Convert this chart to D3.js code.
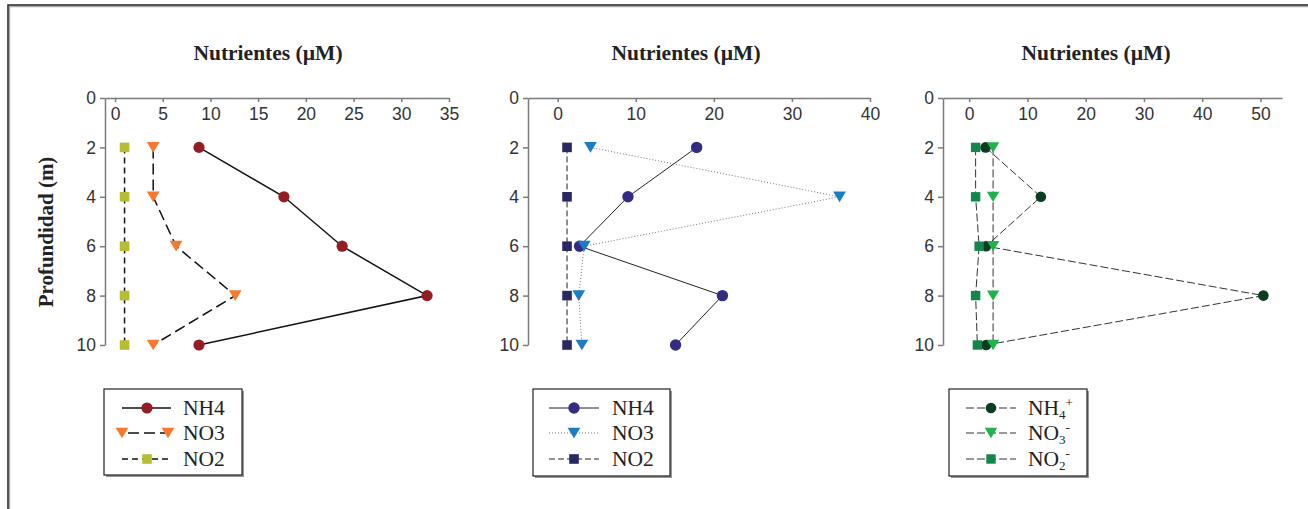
<!DOCTYPE html>
<html><head><meta charset="utf-8">
<script src="https://cdn.jsdelivr.net/npm/d3@7"></script>
<style>body{margin:0;background:#fff}svg{display:block}</style>
</head><body>
<script>
// ---- data ----
const depths = [2, 4, 6, 8, 10];
const depthTicks = [0, 2, 4, 6, 8, 10];
const p1NH4 = [8.8, 17.7, 23.8, 32.7, 8.8];
const p1NO3 = [4.0, 4.0, 6.4, 12.6, 4.0];
const p1NO2 = [1.0, 1.0, 1.0, 1.0, 1.0];
const p2NH4 = [17.8, 9.0, 2.8, 21.1, 15.1];
const p2NO3 = [4.2, 36.1, 3.4, 2.7, 3.1];
const p2NO2 = [1.2, 1.2, 1.2, 1.2, 1.2];
const p3NH4 = [2.8, 12.3, 2.9, 50.5, 2.9];
const p3NO3 = [4.1, 4.1, 4.1, 4.1, 4.1];
const p3NO2 = [1.1, 1.1, 1.7, 1.1, 1.4];
const p1Ticks = [0, 5, 10, 15, 20, 25, 30, 35];
const p2Ticks = [0, 10, 20, 30, 40];
const p3Ticks = [0, 10, 20, 30, 40, 50];
const titleText = "Nutrientes (µM)";
const yLabelText = "Profundidad (m)";

const W = 1308, H = 509;
const svg = d3.select("body").append("svg").attr("width", W).attr("height", H);

// outer frame
svg.append("path").attr("d", `M9.5,${H} L9.5,6.5 L${W},6.5`).attr("fill","none").attr("stroke","#aaa").attr("stroke-width",1.5);
svg.append("path").attr("d", `M8,${H} L8,5 L${W},5`).attr("fill","none").attr("stroke","#222").attr("stroke-width",1.5);

const tri = "M-6,-5 L6,-5 L0,5 Z";
function marker(g, shape, x, y, color, size) {
  if (shape === "circle") g.append("circle").attr("cx", x).attr("cy", y).attr("r", size).attr("fill", color);
  else if (shape === "square") g.append("rect").attr("x", x - size).attr("y", y - size).attr("width", size*2).attr("height", size*2).attr("fill", color);
  else g.append("path").attr("d", tri).attr("transform", `translate(${x},${y}) scale(${size/6})`).attr("fill", color);
}

const panels = [
  { x0: 105, x1: 449, dom: [-1.05, 35], ticks: p1Ticks, titleX: 268,
    series: [
      { name: "NH4", vals: p1NH4, shape: "circle", color: "#941c24", size: 5.6, stroke: "#111", sw: 1.5, dash: null },
      { name: "NO3", vals: p1NO3, shape: "tri", color: "#f57a2e", size: 6.4, stroke: "#111", sw: 1.5, dash: "11,5" },
      { name: "NO2", vals: p1NO2, shape: "square", color: "#b6bd35", size: 4.8, stroke: "#111", sw: 1.5, dash: "6,4" }
    ],
    legend: { x: 104, y: 389, w: 138, h: 86, lx1: 122, lx2: 171, mx: 147, tx: 183, triEnds: true, sub: false } },
  { x0: 528, x1: 870, dom: [-3.8, 40], ticks: p2Ticks, titleX: 686,
    series: [
      { name: "NH4", vals: p2NH4, shape: "circle", color: "#332c82", size: 5.7, stroke: "#222", sw: 1, dash: null },
      { name: "NO3", vals: p2NO3, shape: "tri", color: "#1b7dc4", size: 6.4, stroke: "#777", sw: 1, dash: "1,2" },
      { name: "NO2", vals: p2NO2, shape: "square", color: "#2a2862", size: 4.8, stroke: "#222", sw: 1, dash: "6,3" }
    ],
    legend: { x: 533, y: 389, w: 137, h: 87, lx1: 549, lx2: 599, mx: 574, tx: 612, triEnds: false, sub: false } },
  { x0: 943, x1: 1282, dom: [-4.5, 53.7], ticks: p3Ticks, titleX: 1096,
    series: [
      { name: "NH4", sub: "4", sup: "+", vals: p3NH4, shape: "circle", color: "#0d3d20", size: 5.3, stroke: "#333", sw: 1, dash: "8,3" },
      { name: "NO3", sub: "3", sup: "-", vals: p3NO3, shape: "tri", color: "#1fb34b", size: 6.2, stroke: "#333", sw: 1, dash: "8,3" },
      { name: "NO2", sub: "2", sup: "-", vals: p3NO2, shape: "square", color: "#13874b", size: 4.7, stroke: "#333", sw: 1, dash: "8,3" }
    ],
    legend: { x: 949, y: 389, w: 138, h: 87, lx1: 966, lx2: 1016, mx: 991, tx: 1028, triEnds: false, sub: true } }
];

const y = d3.scaleLinear().domain([0, 10]).range([98, 345]);

panels.forEach(p => {
  const g = svg.append("g");
  const x = d3.scaleLinear().domain(p.dom).range([p.x0, p.x1]);

  // axes
  const xa = g.append("g").attr("transform", `translate(0,${y(0)})`)
    .call(d3.axisBottom(x).tickValues(p.ticks).tickSizeInner(4).tickSizeOuter(0).tickPadding(6));
  const ya = g.append("g").attr("transform", `translate(${p.x0},0)`)
    .call(d3.axisLeft(y).tickValues(depthTicks).tickSizeInner(5).tickSizeOuter(0).tickPadding(4));
  [xa, ya].forEach(a => {
    a.selectAll("path,line").attr("stroke", "#7a7a7a").attr("stroke-width", 1.5);
    a.selectAll("text").attr("font-family", "'Liberation Sans', Arial, sans-serif").attr("font-size", 17.5).attr("fill", "#333");
  });

  // title
  g.append("text").attr("x", p.titleX).attr("y", 60).attr("text-anchor", "middle")
    .attr("font-family", "'Liberation Serif', 'Times New Roman', serif").attr("font-weight", "bold")
    .attr("font-size", 21.5).attr("fill", "#222").text(titleText);

  // lines
  p.series.forEach(s => {
    const line = d3.line().x(d => x(d[0])).y(d => y(d[1]));
    g.append("path").datum(s.vals.map((v, i) => [v, depths[i]])).attr("d", line)
      .attr("fill", "none").attr("stroke", s.stroke).attr("stroke-width", s.sw)
      .attr("stroke-dasharray", s.dash);
  });
  // markers
  p.series.forEach(s => {
    s.vals.forEach((v, i) => marker(g, s.shape, x(v), y(depths[i]), s.color, s.size));
  });

  // legend
  const L = p.legend;
  g.append("rect").attr("x", L.x + 2).attr("y", L.y + 2).attr("width", L.w).attr("height", L.h).attr("fill", "#999");
  g.append("rect").attr("x", L.x).attr("y", L.y).attr("width", L.w).attr("height", L.h).attr("fill", "#fff").attr("stroke", "#222").attr("stroke-width", 1.2);
  const rowsY = [408, 433, 459];
  p.series.forEach((s, i) => {
    const ry = rowsY[i];
    const withEnds = L.triEnds && s.shape === "tri";
    g.append("line").attr("x1", withEnds ? L.lx1 + 6 : L.lx1).attr("x2", withEnds ? L.lx2 - 6 : L.lx2)
      .attr("y1", ry).attr("y2", ry).attr("stroke", s.stroke).attr("stroke-width", s.sw)
      .attr("stroke-dasharray", s.dash);
    if (withEnds) {
      marker(g, s.shape, L.lx1, ry, s.color, s.size);
      marker(g, s.shape, L.lx2 - 3, ry, s.color, s.size);
    } else {
      marker(g, s.shape, L.mx, ry, s.color, s.size);
    }
    const t = g.append("text").attr("x", L.tx).attr("y", ry + 7)
      .attr("font-family", "'Liberation Serif', 'Times New Roman', serif").attr("font-size", 21.5).attr("fill", "#222");
    if (L.sub) {
      t.append("tspan").text(s.name.slice(0, 2));
      t.append("tspan").attr("font-size", 13).attr("dy", 4).text(s.sub);
      t.append("tspan").attr("font-size", 13).attr("dy", -12).text(s.sup);
    } else {
      t.text(s.name);
    }
  });
});

// y label (first panel)
svg.append("text").attr("transform", "translate(53,232) rotate(-90)").attr("text-anchor", "middle")
  .attr("font-family", "'Liberation Serif', 'Times New Roman', serif").attr("font-weight", "bold")
  .attr("font-size", 21).attr("fill", "#222").text(yLabelText);
</script>
</body></html>
